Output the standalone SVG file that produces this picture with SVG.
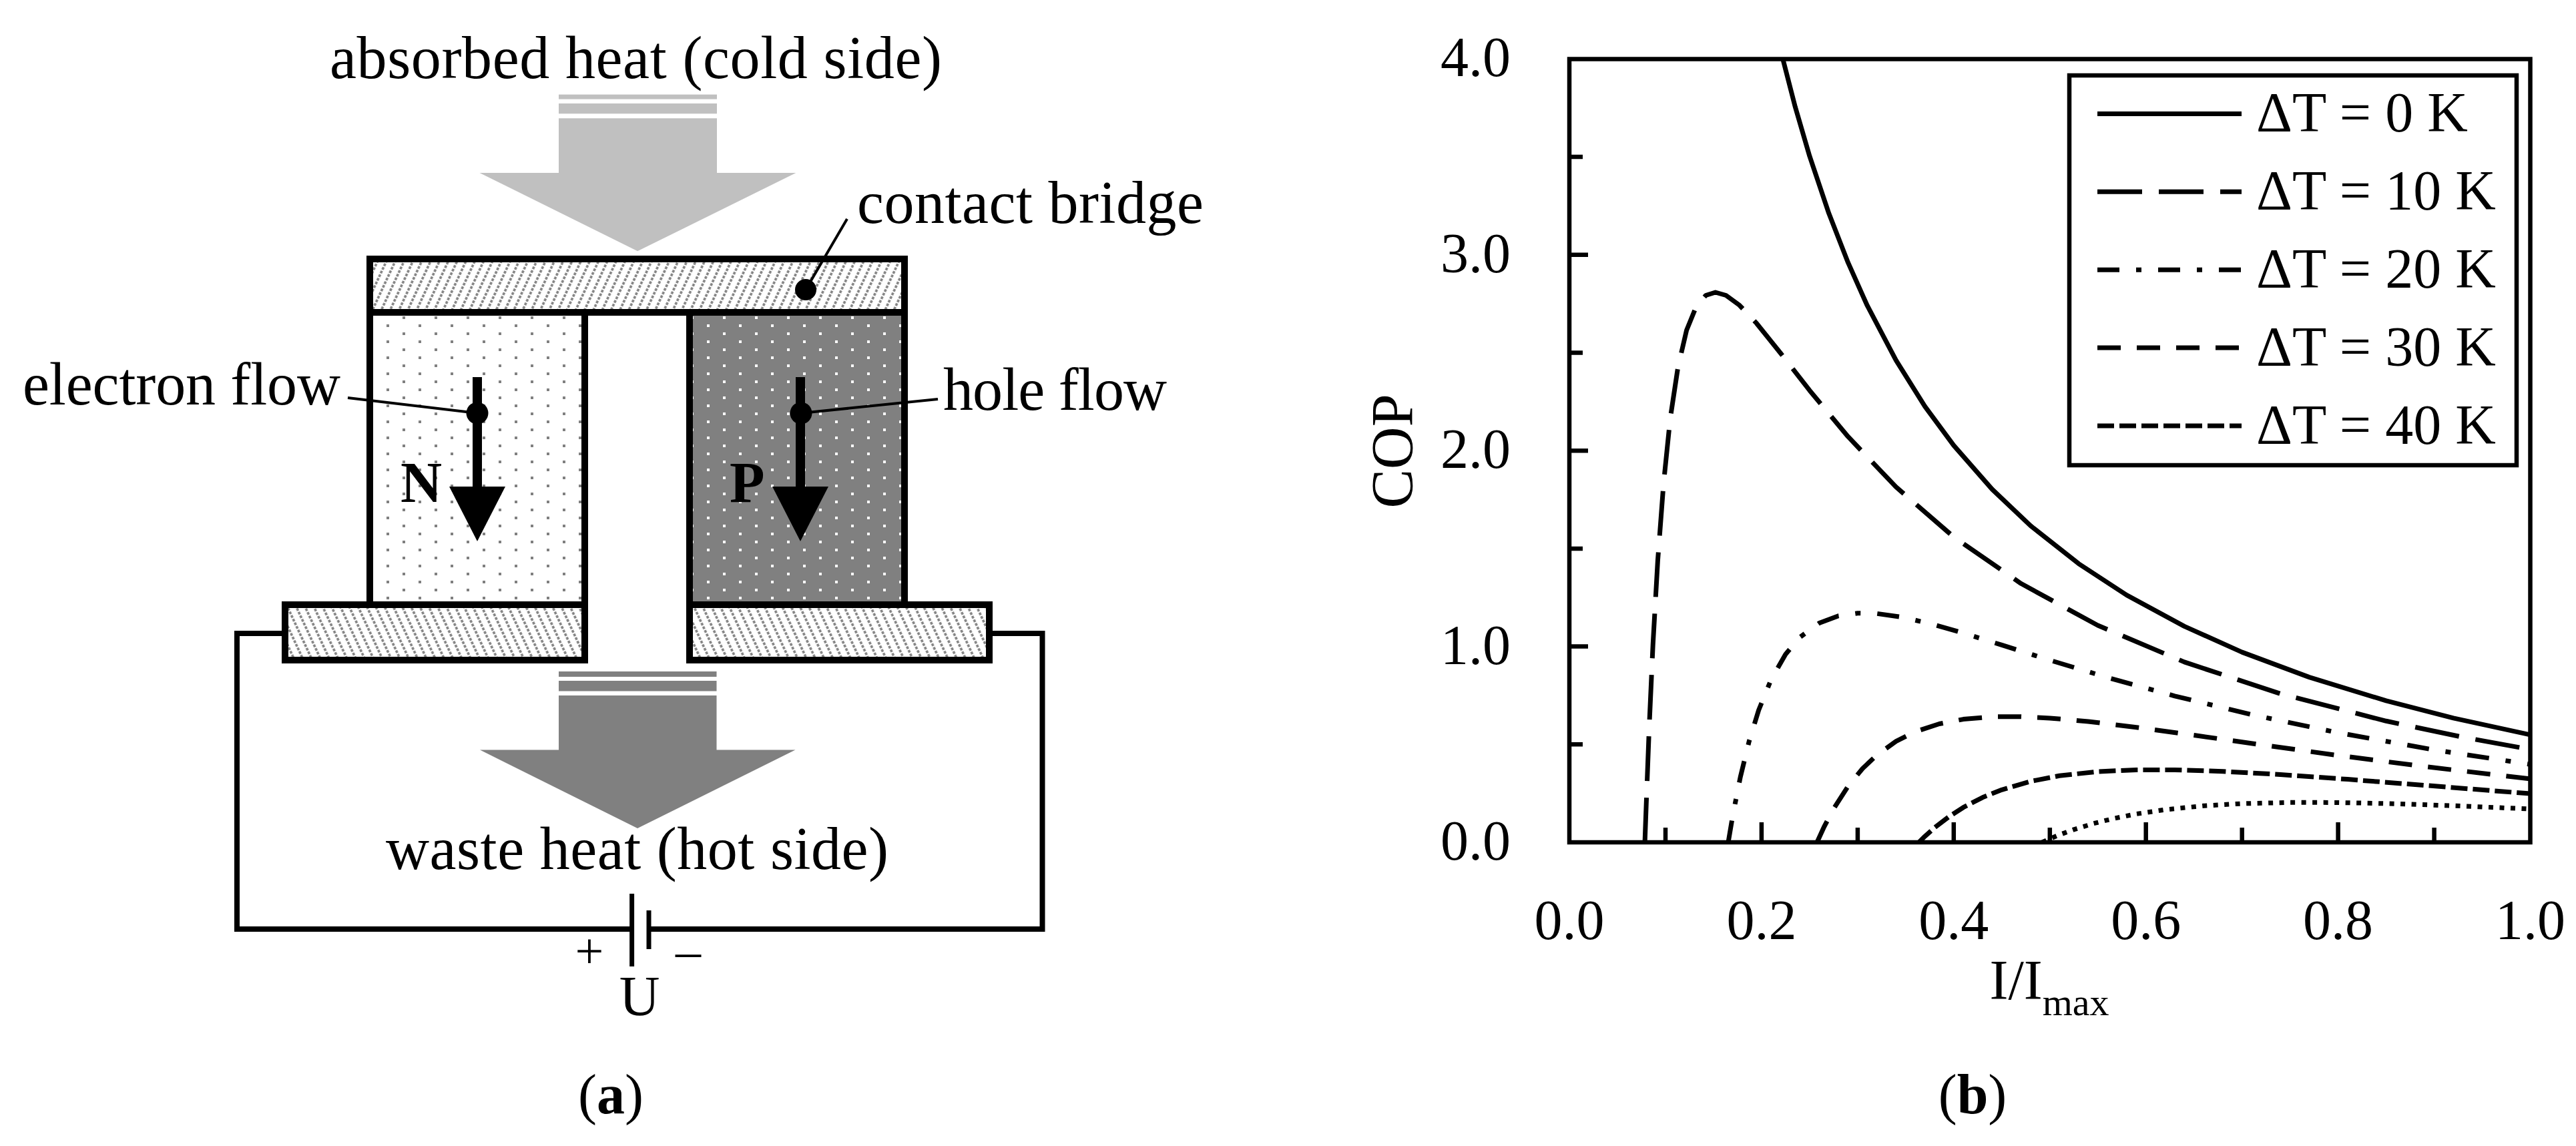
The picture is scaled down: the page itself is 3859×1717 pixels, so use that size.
<svg xmlns="http://www.w3.org/2000/svg" width="3859" height="1717" viewBox="0 0 3859 1717">
<style>
text{font-family:"Liberation Serif","Times New Roman",serif;fill:#000}
.lbl{font-size:90px}
.num{font-size:84px}
.box{stroke:#000;stroke-width:10}
.wire{fill:none;stroke:#000;stroke-width:8}
.lead{fill:none;stroke:#000;stroke-width:4}
.ax{fill:none;stroke:#000;stroke-width:6.5}
.cv{fill:none;stroke:#000;stroke-width:7;stroke-linejoin:round}
.cold{fill:#c0c0c0}
.hot{fill:#808080}
</style>
<defs>
<pattern id="hatchR" width="12" height="12" patternUnits="userSpaceOnUse" patternTransform="rotate(25)">
<rect width="12" height="12" fill="#fff"/>
<line x1="6" y1="0" x2="6" y2="12" stroke="#808080" stroke-width="3.5" stroke-dasharray="4 2"/>
</pattern>
<pattern id="hatchL" width="12" height="12" patternUnits="userSpaceOnUse" patternTransform="rotate(-25)">
<rect width="12" height="12" fill="#fff"/>
<line x1="6" y1="0" x2="6" y2="12" stroke="#808080" stroke-width="3.5" stroke-dasharray="4 2"/>
</pattern>
<pattern id="dotsN" width="48" height="24" patternUnits="userSpaceOnUse">
<rect width="48" height="24" fill="#fff"/>
<rect x="27" y="18" width="4" height="4" fill="#808080"/>
<rect x="3" y="6" width="4" height="4" fill="#808080"/>
</pattern>
<pattern id="dotsP" width="48" height="24" patternUnits="userSpaceOnUse">
<rect width="48" height="24" fill="#808080"/>
<rect x="27" y="18" width="4" height="4" fill="#fff"/>
<rect x="3" y="6" width="4" height="4" fill="#fff"/>
</pattern>
<clipPath id="plotclip"><rect x="2351" y="88.5" width="1439.5" height="1173.5"/></clipPath>
</defs>
<rect width="3859" height="1717" fill="#fff"/>

<!-- Panel (a) -->
<g id="heat-in">
<rect class="cold" x="837" y="141.6" width="237" height="7"/>
<rect class="cold" x="837" y="155" width="237" height="15.3"/>
<polygon class="cold" points="837,177.3 1074,177.3 1074,259 1192.4,259 955.1,376.3 718.5,259 837,259"/>
<text class="lbl" x="494" y="117" textLength="917" lengthAdjust="spacing">absorbed heat (cold side)</text>
</g>

<g id="leg-n">
<rect x="554" y="468" width="322" height="438" fill="url(#dotsN)" class="box"/>
<line x1="715" y1="565" x2="715" y2="735" stroke="#000" stroke-width="14"/>
<polygon points="673,729 757,729 715,811" fill="#000"/>
<text x="600" y="752" font-size="86" font-weight="bold">N</text>
</g>

<g id="leg-p">
<rect x="1033" y="468" width="322" height="438" fill="url(#dotsP)" class="box"/>
<line x1="1199" y1="565" x2="1199" y2="735" stroke="#000" stroke-width="14"/>
<polygon points="1157,729 1241,729 1199,811" fill="#000"/>
<text x="1093" y="752" font-size="86" font-weight="bold">P</text>
</g>

<g id="bridge-top">
<rect x="554" y="388" width="801" height="80" fill="url(#hatchR)" class="box"/>
</g>
<g id="bridge-left">
<rect x="427" y="906" width="449" height="83" fill="url(#hatchL)" class="box"/>
</g>
<g id="bridge-right">
<rect x="1033" y="906" width="449" height="83" fill="url(#hatchL)" class="box"/>
</g>

<g id="heat-out">
<rect class="hot" x="837" y="1006" width="236.5" height="8"/>
<rect class="hot" x="837" y="1020" width="236.5" height="15.5"/>
<polygon class="hot" points="837,1042 1073.5,1042 1073.5,1123.5 1191.5,1123.5 955,1241 719,1123.5 837,1123.5"/>
<text class="lbl" x="578" y="1302" textLength="753" lengthAdjust="spacing">waste heat (hot side)</text>
</g>

<g id="battery">
<line x1="946.6" y1="1339" x2="946.6" y2="1448" stroke="#000" stroke-width="7"/>
<line x1="972" y1="1364" x2="972" y2="1422" stroke="#000" stroke-width="7"/>
<text x="883" y="1450" font-size="76" text-anchor="middle">+</text>
<text x="1031" y="1450" font-size="76" text-anchor="middle">–</text>
<text x="958" y="1521" font-size="84" text-anchor="middle">U</text>
</g>

<g id="labels-a">
<text class="lbl" x="1284" y="334" textLength="519" lengthAdjust="spacing">contact bridge</text>
<text class="lbl" x="34" y="606" textLength="476" lengthAdjust="spacing">electron flow</text>
<text class="lbl" x="1413" y="614" textLength="335" lengthAdjust="spacing">hole flow</text>
<text x="915" y="1668" font-size="84" text-anchor="middle">(<tspan font-weight="bold">a</tspan>)</text>
</g>

<g id="connectors">
<path class="wire" d="M427 949H355V1392H946.6 M972 1392H1561.5V949H1482"/>
<line class="lead" x1="1269" y1="328" x2="1207" y2="434"/>
<circle cx="1207" cy="434" r="16" fill="#000"/>
<line class="lead" x1="521" y1="596" x2="715" y2="619"/>
<circle cx="715" cy="619" r="16.5" fill="#000"/>
<line class="lead" x1="1405" y1="598" x2="1200" y2="619"/>
<circle cx="1200" cy="619" r="16.5" fill="#000"/>
</g>

<!-- Panel (b) -->
<g id="axes">
<rect class="ax" x="2351" y="88.5" width="1439.5" height="1173.5"/>
<path class="ax" d="M2351 1115.3h20M2351 968.6h28M2351 821.9h20M2351 675.2h28M2351 528.5h20M2351 381.8h28M2351 235.1h20"/>
<path class="ax" d="M2495 1262v-22M2638.9 1262v-30M2782.9 1262v-22M2926.8 1262v-30M3070.8 1262v-22M3214.7 1262v-30M3358.7 1262v-22M3502.6 1262v-30M3646.6 1262v-22"/>
<g class="num" text-anchor="end">
<text x="2263" y="1288">0.0</text>
<text x="2263" y="994.6">1.0</text>
<text x="2263" y="701.2">2.0</text>
<text x="2263" y="407.8">3.0</text>
<text x="2263" y="114.4">4.0</text>
</g>
<g class="num" text-anchor="middle">
<text x="2351" y="1407">0.0</text>
<text x="2638.9" y="1407">0.2</text>
<text x="2926.8" y="1407">0.4</text>
<text x="3214.7" y="1407">0.6</text>
<text x="3502.6" y="1407">0.8</text>
<text x="3790.5" y="1407">1.0</text>
</g>
<text font-size="88" text-anchor="middle" transform="translate(2115,676) rotate(-90)">COP</text>
<text x="3070" y="1497" font-size="84" text-anchor="middle">I/I<tspan font-size="58" dy="24">max</tspan></text>
<text x="2955" y="1668" font-size="84" text-anchor="middle">(<tspan font-weight="bold">b</tspan>)</text>
</g>

<g id="curves" clip-path="url(#plotclip)">
<polyline class="cv" points="2667.7,76.3 2689.3,160.1 2710.9,233.9 2739.7,319.6 2768.5,393.4 2797.2,457.7 2840.4,539.9 2883.6,608.8 2926.8,667.4 2984.4,733.1 3042,787.8 3114,844.6 3185.9,891.6 3272.3,938.4 3358.7,977.1 3459.4,1014.6 3574.6,1049.9 3675.3,1075.8 3790.5,1100.9"/>
<polyline class="cv" stroke-dasharray="67 25" points="2464.1,1262 2466.2,1204.7 2470.5,1092 2476.2,966 2483.4,840.1 2492.1,724.8 2502.1,627.1 2513.7,550.2 2526.6,494.8 2541,459.4 2555.4,442.5 2569.8,438 2585.6,442.5 2605.8,457.3 2631.7,484.7 2667.7,529.5 2710.9,584.9 2768.5,654.2 2840.4,729.7 2926.8,804.5 3027.6,874.3 3142.7,937 3272.3,991.9 3416.2,1039.4 3574.6,1080.3 3689.7,1104.5 3790.5,1122.9"/>
<polyline class="cv" stroke-dasharray="33 25 8 25" points="2589,1262 2595.7,1222.3 2607.2,1164.1 2620.2,1110.9 2634.6,1064 2653.3,1018 2674.9,980.2 2696.5,954.6 2725.3,933.5 2754.1,922.7 2782.9,918.7 2811.6,919.3 2847.6,924.3 2890.8,934.2 2941.2,948.5 2998.8,966.4 3070.8,989.1 3157.1,1015.1 3257.9,1042.8 3373,1070.7 3502.6,1097.8 3646.6,1123.5 3790.5,1145.2"/>
<polyline class="cv" stroke-dasharray="35 24" points="2722,1262 2732.5,1239 2746.9,1211.6 2768.5,1178 2790,1151.7 2811.6,1131.2 2840.4,1110.7 2869.2,1096.3 2905.2,1084.5 2941.2,1077.6 2984.4,1073.9 3027.6,1073.7 3070.8,1075.9 3128.3,1081 3200.3,1089.7 3286.7,1101.5 3387.4,1115.8 3502.6,1131.8 3632.2,1148.5 3790.5,1166.9"/>
<polyline class="cv" stroke-dasharray="25 8" points="2874.6,1262 2883.6,1253.1 2898,1240.2 2919.6,1223.6 2941.2,1209.7 2970,1194.8 2998.8,1183.3 3042,1170.6 3085.1,1162.3 3142.7,1156 3200.3,1153.4 3257.9,1153.4 3329.9,1155.7 3416.2,1160.5 3517,1167.6 3632.2,1176.6 3790.5,1189.1"/>
<polyline class="cv" stroke-dasharray="7 9.5" points="3059.2,1262 3070.8,1256.7 3085.1,1250.8 3106.7,1242.9 3135.5,1234 3164.3,1226.8 3200.3,1219.5 3243.5,1213.1 3301.1,1207.3 3358.7,1204 3430.6,1202.3 3502.6,1202.4 3589,1204.2 3689.7,1207.7 3790.5,1212.1"/>
</g>

<g id="legend">
<rect x="3100" y="113" width="670" height="584" fill="#fff" stroke="#000" stroke-width="6.5"/>
<line class="cv" x1="3142" y1="170.4" x2="3358" y2="170.4"/>
<line class="cv" stroke-dasharray="67 25" x1="3142" y1="287.3" x2="3358" y2="287.3"/>
<line class="cv" stroke-dasharray="33 25 8 25" x1="3142" y1="404.2" x2="3358" y2="404.2"/>
<line class="cv" stroke-dasharray="35 24" x1="3142" y1="521.1" x2="3358" y2="521.1"/>
<line class="cv" stroke-dasharray="25 8" x1="3142" y1="638" x2="3358" y2="638"/>
<g class="num">
<text x="3380" y="197.4">ΔT = 0 K</text>
<text x="3380" y="314.3">ΔT = 10 K</text>
<text x="3380" y="431.2">ΔT = 20 K</text>
<text x="3380" y="548.1">ΔT = 30 K</text>
<text x="3380" y="665">ΔT = 40 K</text>
</g>
</g>
</svg>
